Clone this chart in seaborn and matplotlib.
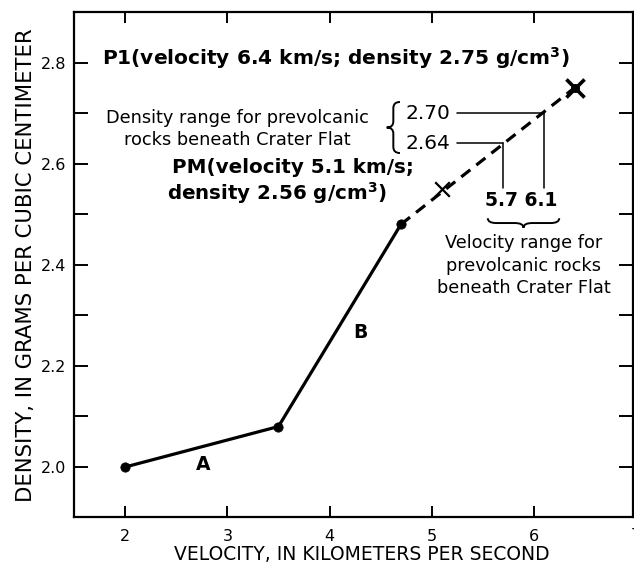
import matplotlib
matplotlib.use("Agg")
import matplotlib.pyplot as plt
import seaborn as sns
import pandas as pd
import numpy as np
from matplotlib.path import Path
from matplotlib.patches import PathPatch

# ---- data ----
velocity_solid = [2.0, 3.5, 4.7]
density_solid = [2.00, 2.08, 2.48]
velocity_dash = [4.7, 6.4]
density_dash = [2.48, 2.75]
p1_point = (6.4, 2.75)
pm_point = (5.1, 2.55)
range_velocity = [5.7, 6.1]
range_density = [2.64, 2.70]
segment_labels = ["A", "B"]
segment_label_pos_x = [2.76, 4.30]
segment_label_pos_y = [2.004, 2.265]
x_ticks = [2, 3, 4, 5, 6]
y_ticks_major = [2.0, 2.2, 2.4, 2.6, 2.8]
y_ticks_minor = [2.1, 2.3, 2.5, 2.7]

sns.set_theme(style="ticks")
plt.rcParams['font.family'] = ['DejaVu Sans']
plt.rcParams['mathtext.default'] = 'regular'
for k in ['text.color', 'axes.labelcolor', 'xtick.color', 'ytick.color',
          'axes.edgecolor']:
    plt.rcParams[k] = 'black'

fig = plt.figure(figsize=(6.34, 5.66), dpi=100)
ax = fig.add_axes([0.1172, 0.0857, 0.8808, 0.8931])

df_solid = pd.DataFrame({"v": velocity_solid, "d": density_solid})
df_dash = pd.DataFrame({"v": velocity_dash, "d": density_dash})

sns.lineplot(data=df_solid, x="v", y="d", ax=ax, color="black", lw=2.3, sort=False)
sns.lineplot(data=df_dash, x="v", y="d", ax=ax, color="black", lw=2.3, sort=False)
ax.lines[-1].set_dashes([3.6, 2.4])
sns.scatterplot(data=df_solid, x="v", y="d", ax=ax, color="black", s=45,
                edgecolor="black", zorder=5)
ax.scatter([p1_point[0]], [p1_point[1]], marker="x", s=170, color="black",
           linewidths=2.6, zorder=6)
ax.scatter([p1_point[0]], [p1_point[1]], marker="o", s=30, color="black", zorder=6)
ax.scatter([pm_point[0]], [pm_point[1]], marker="x", s=110, color="black",
           linewidths=1.6, zorder=6)

# range guide lines
ax.plot([5.25, range_velocity[1]], [range_density[1]] * 2, color="black", lw=1.1)
ax.plot([5.25, range_velocity[0]], [range_density[0]] * 2, color="black", lw=1.1)
ax.plot([range_velocity[1]] * 2, [range_density[1], 2.552], color="black", lw=1.1)
ax.plot([range_velocity[0]] * 2, [range_density[0], 2.552], color="black", lw=1.1)


def brace(ax, start, end, base, depth, vertical, lw=1.4):
    L = end - start
    q = 0.12 * L
    m = start + L / 2
    h = base + depth / 2
    t = base + depth
    pts = [(start, base), (start, h), (start + q, h), (m - q, h), (m, h), (m, t),
           (m, h), (m + q, h), (end - q, h), (end, h), (end, base)]
    codes = [Path.MOVETO, Path.CURVE3, Path.CURVE3, Path.LINETO, Path.CURVE3,
             Path.CURVE3, Path.CURVE3, Path.CURVE3, Path.LINETO, Path.CURVE3,
             Path.CURVE3]
    if vertical:
        pts = [(b, a) for a, b in pts]
    ax.add_patch(PathPatch(Path(pts, codes), fill=False, lw=lw, color="black"))


brace(ax, 2.621, 2.722, 4.69, -0.13, vertical=True)
brace(ax, 5.55, 6.25, 2.492, -0.019, vertical=False)

# texts
ax.text(1.77, 2.795, "P1(velocity 6.4 km/s; density 2.75 g/cm$^{3}$)",
        fontsize=14.5, fontweight="bold", ha="left", va="baseline")
ax.text(3.10, 2.668, "Density range for prevolcanic\nrocks beneath Crater Flat",
        fontsize=12.8, ha="center", va="center", linespacing=1.3)
ax.text(4.74, range_density[1], f"{range_density[1]:.2f}", fontsize=14.5,
        ha="left", va="center")
ax.text(4.74, range_density[0], f"{range_density[0]:.2f}", fontsize=14.5,
        ha="left", va="center")
ax.text(2.46, 2.581, "PM(velocity 5.1 km/s;", fontsize=14.3, fontweight="bold",
        ha="left", va="baseline")
ax.text(2.41, 2.528, "density 2.56 g/cm$^{3}$)", fontsize=14.3, fontweight="bold",
        ha="left", va="baseline")
ax.text(5.88, 2.528, f"{range_velocity[0]} {range_velocity[1]}", fontsize=13.5,
        fontweight="bold", ha="center", va="center")
ax.text(5.9, 2.46, "Velocity range for\nprevolcanic rocks\nbeneath Crater Flat",
        fontsize=12.8, ha="center", va="top", linespacing=1.3)
for lab, lx, ly in zip(segment_labels, segment_label_pos_x, segment_label_pos_y):
    ax.text(lx, ly, lab, fontsize=13.5, fontweight="bold", ha="center", va="center")

# axes styling
ax.set_xlim(1.5, 6.97)
ax.set_ylim(1.9, 2.9)
ax.set_xticks(x_ticks)
ax.set_xticklabels([str(t) for t in x_ticks])
ax.set_yticks(y_ticks_major)
ax.set_yticklabels([f"{t:.1f}" for t in y_ticks_major])
ax.set_yticks(y_ticks_minor, minor=True)
ax.tick_params(axis="both", which="both", direction="in", top=True, right=True,
               width=1.4, color="black", labelsize=11.5)
ax.tick_params(axis="y", which="both", length=10, pad=6)
ax.tick_params(axis="x", which="both", length=8, pad=8)
for s in ax.spines.values():
    s.set_visible(True)
    s.set_linewidth(1.6)
    s.set_color("black")
ax.text(7.0, -0.021, "7", transform=ax.get_xaxis_transform(), fontsize=11.5,
        ha="center", va="top", clip_on=False)
ax.set_xlabel("VELOCITY, IN KILOMETERS PER SECOND", fontsize=13.5)
ax.set_ylabel("DENSITY, IN GRAMS PER CUBIC CENTIMETER", fontsize=15.2)
ax.yaxis.set_label_coords(-0.068, 0.5)
ax.xaxis.set_label_coords(0.515, -0.054)

fig.savefig("out.png", dpi=100)
